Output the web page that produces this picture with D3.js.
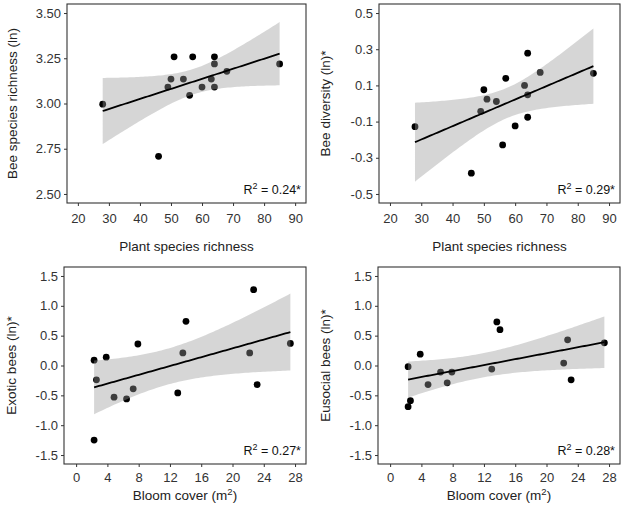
<!DOCTYPE html>
<html><head><meta charset="utf-8">
<script src="https://cdn.jsdelivr.net/npm/d3@7"></script>
<style>
body{margin:0;background:#fff}
text{font-family:"Liberation Sans",Arial,sans-serif}
</style>
</head><body>
<svg id="c" width="625" height="520"></svg>
<script>
// ---- data ----
const plantRichness = [28,46,49,50,51,54,56,57,60,63,64,64,64,68,85];
const beeRichnessLn = [2.996,2.708,3.091,3.135,3.258,3.135,3.045,3.258,3.091,3.135,3.258,3.219,3.091,3.178,3.219];
const beeDiversityLn = [-0.128,-0.385,-0.043,0.076,0.024,0.011,-0.229,0.139,-0.124,0.100,0.278,0.048,-0.076,0.172,0.167];

const bloomCover = [2.3,2.3,2.6,3.85,4.85,6.45,7.3,7.9,13.0,13.65,14.05,22.2,22.7,23.15,27.4];
const exoticBeesLn = [0.09,-1.25,-0.24,0.14,-0.53,-0.56,-0.39,0.36,-0.46,0.21,0.74,0.21,1.27,-0.32,0.37];
const eusocialBeesLn = [-0.02,-0.69,-0.59,0.19,-0.32,-0.11,-0.29,-0.11,-0.06,0.73,0.60,0.04,0.43,-0.24,0.38];

const ticksPlant = [20,30,40,50,60,70,80,90];
const ticksBloom = [0,4,8,12,16,20,24,28];
const ticksRichness = [2.50,2.75,3.00,3.25,3.50];
const ticksDiversity = [-0.5,-0.3,-0.1,0.1,0.3,0.5];
const ticksBees = [-1.5,-1.0,-0.5,0.0,0.5,1.0,1.5];

const r2Labels = ["0.24*","0.29*","0.27*","0.28*"];

// ---- layout ----
const panels = [
  {x:67, y:4, w:239, h:199, xs:plantRichness, ys:beeRichnessLn, xd:[16.5,93.5], yd:[2.45,3.55],
   xt:ticksPlant, yt:ticksRichness, yf:2, xf:0, ytitle:"Bee species richness (ln)", xtitle:"plant", ytx:12, xtb:251, pad:8, r2:r2Labels[0]},
  {x:379, y:4, w:241, h:199, xs:plantRichness, ys:beeDiversityLn, xd:[16.5,93.5], yd:[-0.55,0.55],
   xt:ticksPlant, yt:ticksDiversity, yf:1, xf:0, ytitle:"Bee diversity (ln)*", xtitle:"plant", ytx:325, xtb:251, pad:8, r2:r2Labels[1]},
  {x:64, y:267, w:242, h:197, xs:bloomCover, ys:exoticBeesLn, xd:[-1.55,29.4], yd:[-1.65,1.65],
   xt:ticksBloom, yt:ticksBees, yf:1, xf:0, ytitle:"Exotic bees (ln)*", xtitle:"bloom", ytx:11, xtb:500, pad:6, r2:r2Labels[2]},
  {x:378, y:267, w:242, h:197, xs:bloomCover, ys:eusocialBeesLn, xd:[-1.55,29.4], yd:[-1.65,1.65],
   xt:ticksBloom, yt:ticksBees, yf:1, xf:0, ytitle:"Eusocial bees (ln)*", xtitle:"bloom", ytx:325, xtb:500, pad:6, r2:r2Labels[3]}
];

const tTable = {10:2.2281,11:2.2010,12:2.1788,13:2.1604,14:2.1448,15:2.1314,16:2.1199,17:2.1098,18:2.1009};

function fit(xs, ys){
  const n = xs.length;
  const mx = d3.mean(xs), my = d3.mean(ys);
  let sxx=0, sxy=0;
  xs.forEach((x,i)=>{sxx+=(x-mx)*(x-mx); sxy+=(x-mx)*(ys[i]-my);});
  const b = sxy/sxx, a = my - b*mx;
  let sse=0; xs.forEach((x,i)=>{const e=ys[i]-(a+b*x); sse+=e*e;});
  const s = Math.sqrt(sse/(n-2));
  const t = tTable[n-2] || 2.0;
  const [lo,hi] = d3.extent(xs);
  const grid = d3.range(80).map(i=>lo+(hi-lo)*i/79);
  return grid.map(x=>{
    const yh = a+b*x;
    const se = s*Math.sqrt(1/n + (x-mx)*(x-mx)/sxx);
    return {x, y:yh, lo:yh-t*se, hi:yh+t*se};
  });
}

const fmt = (d,p)=> d.toFixed(p).replace("\u2212","-");
const svg = d3.select("#c");
const axisCol = "#333";

panels.forEach((p,k)=>{
  const g = svg.append("g").attr("transform",`translate(${p.x},${p.y})`);
  const x = d3.scaleLinear().domain(p.xd).range([0,p.w]);
  const y = d3.scaleLinear().domain(p.yd).range([p.h,0]);
  const cid = "clip"+k;
  g.append("clipPath").attr("id",cid).append("rect").attr("width",p.w).attr("height",p.h);
  const plot = g.append("g").attr("clip-path",`url(#${cid})`);

  // points
  plot.selectAll("circle").data(p.xs.map((v,i)=>[v,p.ys[i]])).join("circle")
    .attr("cx",d=>x(d[0])).attr("cy",d=>y(d[1])).attr("r",3.4).attr("fill","#000");

  const f = fit(p.xs,p.ys);
  plot.append("path").datum(f)
    .attr("d",d3.area().x(d=>x(d.x)).y0(d=>y(d.lo)).y1(d=>y(d.hi)))
    .attr("fill","#999999").attr("fill-opacity",0.4);
  plot.append("path").datum(f)
    .attr("d",d3.line().x(d=>x(d.x)).y(d=>y(d.y)))
    .attr("fill","none").attr("stroke","#000").attr("stroke-width",1.8);

  // axes
  const ax = g.append("g").attr("transform",`translate(0,${p.h})`)
    .call(d3.axisBottom(x).tickValues(p.xt).tickSize(3).tickPadding(p.pad).tickFormat(d=>fmt(d,p.xf)));
  const ay = g.append("g")
    .call(d3.axisLeft(y).tickValues(p.yt).tickSize(3).tickPadding(3).tickFormat(d=>fmt(d,p.yf)));
  [ax,ay].forEach(a=>{
    a.select(".domain").remove();
    a.selectAll(".tick line").attr("stroke",axisCol);
    a.selectAll(".tick text").attr("fill","#333").style("font-size","13px")
      .style("font-family",'"Liberation Sans",Arial,sans-serif');
  });

  // border
  g.append("rect").attr("width",p.w).attr("height",p.h)
    .attr("fill","none").attr("stroke",axisCol).attr("stroke-width",1.1);

  // R2 label
  const rt = g.append("text").attr("x",p.w-5).attr("y",p.h-9).attr("text-anchor","end")
    .attr("fill","#111").style("font-size","12.5px");
  rt.append("tspan").text("R");
  rt.append("tspan").attr("dy",-5).style("font-size","9px").text("2");
  rt.append("tspan").attr("dy",5).text(" = "+p.r2);

  // y title
  svg.append("text")
    .attr("transform",`translate(${p.ytx},${p.y+p.h/2}) rotate(-90)`)
    .attr("text-anchor","middle").attr("dy","0.35em")
    .attr("fill","#222").style("font-size","13.5px").text(p.ytitle);

  // x title
  const xt = svg.append("text").attr("x",p.x+p.w/2).attr("y",p.xtb)
    .attr("text-anchor","middle").attr("fill","#222").style("font-size","13.5px");
  if(p.xtitle==="plant"){ xt.text("Plant species richness"); }
  else {
    xt.append("tspan").text("Bloom cover (m");
    xt.append("tspan").attr("dy",-5).style("font-size","9.5px").text("2");
    xt.append("tspan").attr("dy",5).text(")");
  }
});
</script>
</body></html>
